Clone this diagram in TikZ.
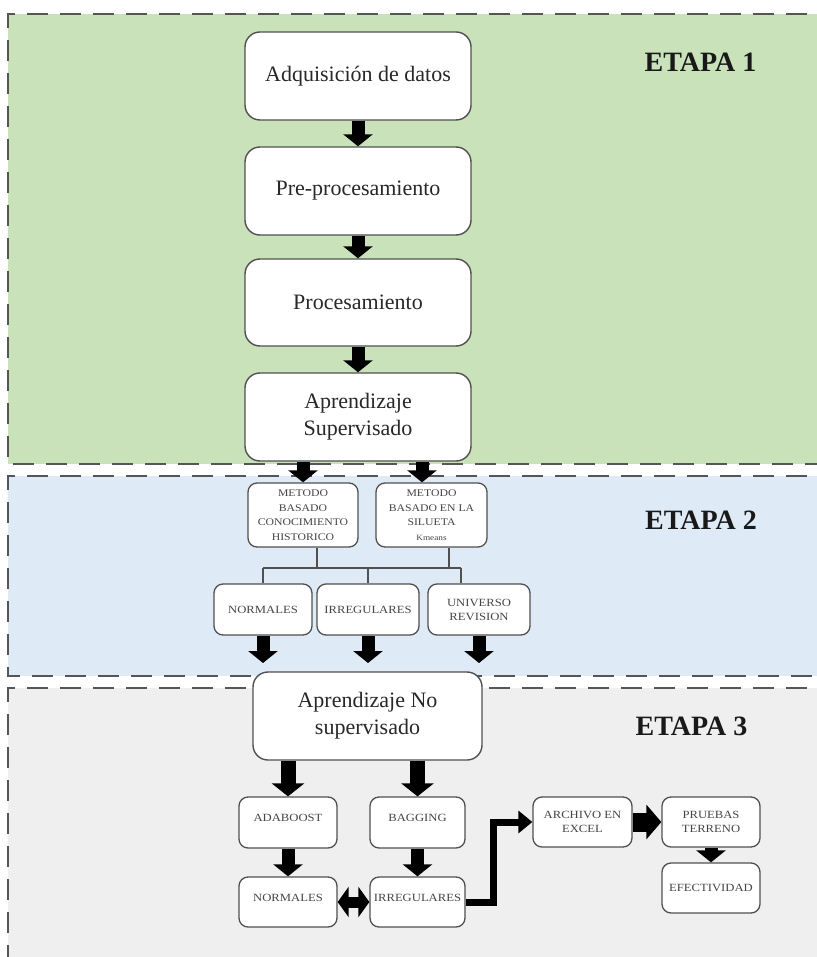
\documentclass[tikz,border=0pt]{standalone}
\usepackage{fontspec}
\setmainfont{Liberation Serif}
\newfontfamily\smallfont[FakeStretch=1.15]{Liberation Serif}
\usetikzlibrary{arrows.meta,calc}
\definecolor{greenbg}{RGB}{201,226,186}
\definecolor{bluebg}{RGB}{222,234,246}
\definecolor{graybg}{RGB}{239,239,239}
\definecolor{dashc}{RGB}{85,85,85}
\definecolor{boxc}{RGB}{80,80,80}
\definecolor{txtc}{RGB}{40,40,40}
\definecolor{smtxt}{RGB}{70,70,70}
\tikzset{
  region/.style={draw=dashc, line width=2.8pt, dash pattern=on 21pt off 12pt},
  bigbox/.style={draw=boxc, line width=1.4pt, fill=white, rounded corners=15pt,
    minimum width=226pt, minimum height=88pt, align=center, text=txtc,
    font=\fontsize{22}{27}\selectfont, inner sep=2pt},
  smbox/.style={draw=boxc, line width=1.3pt, fill=white, rounded corners=9pt,
    minimum width=98pt, minimum height=51pt, align=center, text=smtxt,
    font=\smallfont\fontsize{11}{14}\selectfont, inner sep=1pt},
  metbox/.style={smbox, minimum height=64pt, font=\smallfont\fontsize{10.2}{14.5}\selectfont},
  etapa/.style={font=\bfseries\fontsize{28}{30}\selectfont, text=black!90},
  blk/.style={line width=13pt, -{Triangle[width=29pt,length=12pt]}},
  blkbig/.style={line width=15pt, -{Triangle[width=32pt,length=13pt]}},
  blkdouble/.style={line width=11pt, {Triangle[width=30pt,length=11pt]}-{Triangle[width=30pt,length=11pt]}},
  elbow/.style={line width=7pt, -{Triangle[width=22pt,length=14pt]}},
  fat/.style={line width=19pt, -{Triangle[width=34pt,length=15pt]}},
  tree/.style={draw=boxc, line width=1.4pt},
}
\begin{document}
\begin{tikzpicture}[x=1pt,y=-1pt]
\useasboundingbox (0,0) rectangle (816,957);
\fill[white] (0,0) rectangle (816,957);
% regions
\fill[greenbg] (8,14) rectangle (840,464);
\draw[region] (840,14) -- (8,14) -- (8,464) -- (840,464);
\fill[bluebg] (8,476) rectangle (840,676);
\draw[region] (840,476) -- (8,476) -- (8,676) -- (840,676);
\fill[graybg] (8,688) rectangle (840,990);
\draw[region] (840,688) -- (8,688) -- (8,990);

% stage labels
\node[etapa] (e1) at (700.5,62) {ETAPA 1};
\node[etapa] (e2) at (701,520) {ETAPA 2};
\node[etapa] (e3) at (691.5,726) {ETAPA 3};

% stage 1
\node[bigbox] (n1) at (358,76) {Adquisición de datos};
\node[bigbox] (n2) at (358,191) {Pre-procesamiento};
\node[bigbox, minimum height=87pt] (n3) at (358,302.5) {Procesamiento};
\node[bigbox] (n4) at (358,417) {Aprendizaje\\Supervisado};

% stage 2
\node[metbox, minimum width=110pt] (m1) at (303,515)
  {METODO\\BASADO\\CONOCIMIENTO\\HISTORICO};
\node[metbox, minimum width=111pt] (m2) at (431.5,515)
  {METODO\\BASADO EN LA\\SILUETA\\{\fontsize{8}{10}\selectfont Kmeans}};
\node[smbox] (b1) at (263,609.5) {NORMALES};
\node[smbox, minimum width=102pt] (b2) at (368,609.5) {IRREGULARES};
\node[smbox, minimum width=102pt] (b3) at (479,609.5) {UNIVERSO\\REVISION};

% stage 3
\node[bigbox, minimum width=229pt] (a) at (367.5,716) {Aprendizaje No\\supervisado};
\node[smbox] (c1) at (288,822.5) {\raisebox{9pt}{ADABOOST}};
\node[smbox, minimum width=95pt] (c2) at (417.5,822.5) {\raisebox{9pt}{BAGGING}};
\node[smbox, minimum height=50pt] (c3) at (288,902) {\raisebox{9pt}{NORMALES}};
\node[smbox, minimum width=95pt, minimum height=50pt] (c4) at (417.5,902) {\raisebox{9pt}{IRREGULARES}};
\node[smbox, minimum width=99pt, minimum height=50pt] (d1) at (582.5,822) {ARCHIVO EN\\EXCEL};
\node[smbox, minimum height=50pt] (d2) at (711,822) {PRUEBAS\\TERRENO};
\node[smbox, minimum height=50pt] (d3) at (711,888) {EFECTIVIDAD};

% connectors stage 1
\draw[blk] (n1) -- (n2);
\draw[blk] (n2) -- (n3);
\draw[blk] (n3) -- (n4);
\draw[blk] (m1.north |- n4.south) -- (m1.north);
\draw[blk] ([xshift=-9.5pt]m2.north |- n4.south) -- ([xshift=-9.5pt]m2.north);

% tree stage 2
\coordinate (bus) at (0,568);
\coordinate (stopl) at (0,663);
\draw[tree] ([xshift=14pt]m1.south) -- ([xshift=14pt]m1.south |- bus);
\draw[tree] ([xshift=17.5pt]m2.south) -- ([xshift=17.5pt]m2.south |- bus);
\draw[tree] (b1.north |- bus) -- ([xshift=-18pt]b3.north |- bus);
\draw[tree] (b1.north |- bus) -- (b1.north);
\draw[tree] (b2.north |- bus) -- (b2.north);
\draw[tree] ([xshift=-18pt]b3.north |- bus) -- ([xshift=-18pt]b3.north);
\draw[blk] (b1.south) -- (b1.south |- stopl);
\draw[blk] (b2.south) -- (b2.south |- stopl);
\draw[blk] (b3.south) -- (b3.south |- stopl);

% stage 3 connectors
\draw[blkbig] (c1.north |- a.south) -- (c1.north);
\draw[blkbig] (c2.north |- a.south) -- (c2.north);
\draw[blk] (c1) -- (c3);
\draw[blk] (c2) -- (c4);
\draw[blkdouble] (c3) -- (c4);
\draw[elbow] (c4.east) -- ++(28,0) |- (d1.west);
\draw[fat] (d1) -- (d2);
\draw[blk] (d2) -- (d3);
\end{tikzpicture}
\end{document}
